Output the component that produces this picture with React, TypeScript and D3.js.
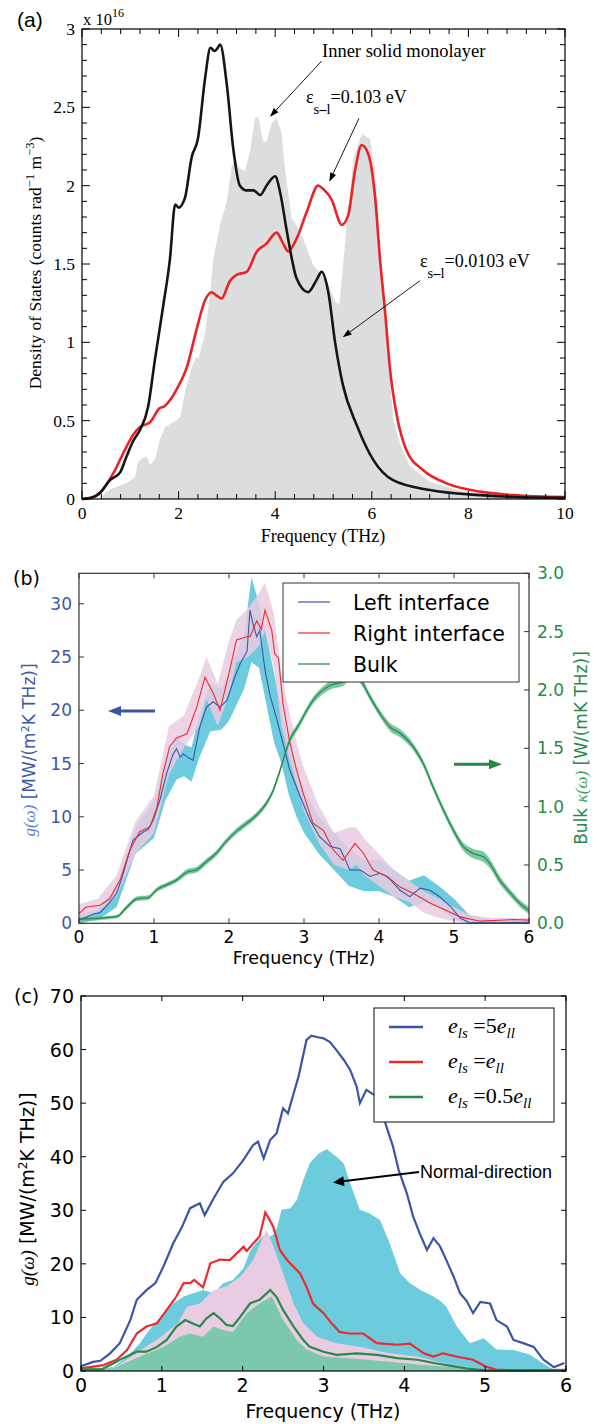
import React from 'react';
import * as d3 from 'd3';

type P2 = [number, number];
type P3 = [number, number, number];

// ---------- Panel (a): phonon density of states ----------
const dosInnerMonolayer: P2[] = [
  [0, 0], [0.37, 0], [0.45, 0.03], [0.58, 0.06], [0.92, 0.1], [1.1, 0.14], [1.16, 0.24], [1.25, 0.26],
  [1.34, 0.27], [1.41, 0.22], [1.51, 0.25], [1.61, 0.38], [1.72, 0.46], [1.89, 0.49], [2.03, 0.52],
  [2.13, 0.68], [2.27, 0.84], [2.37, 0.91], [2.41, 0.89], [2.55, 1.06], [2.65, 1.31], [2.72, 1.54],
  [2.86, 1.75], [3.0, 1.9], [3.1, 2.13], [3.2, 2.17], [3.24, 2.12], [3.37, 2.09], [3.48, 2.22],
  [3.58, 2.43], [3.65, 2.44], [3.75, 2.28], [3.82, 2.28], [3.93, 2.4], [4.03, 2.43], [4.13, 2.34],
  [4.2, 2.11], [4.34, 1.79], [4.44, 1.75], [4.58, 1.66], [4.79, 1.49], [5.07, 1.39], [5.24, 1.26],
  [5.33, 1.24], [5.48, 1.75], [5.62, 2.17], [5.79, 2.33], [5.96, 2.3], [6.07, 2.1], [6.17, 1.55],
  [6.27, 1.15], [6.38, 0.75], [6.45, 0.5], [6.6, 0.34], [6.79, 0.21], [7.2, 0.11], [7.9, 0.047],
  [8.9, 0.01], [10, 0],
];
const dosStrongCoupling: P2[] = [
  [0, 0], [0.2, 0.01], [0.35, 0.03], [0.5, 0.09], [0.65, 0.165], [0.85, 0.29], [1.06, 0.41], [1.2, 0.46],
  [1.41, 0.49], [1.61, 0.58], [1.7, 0.59], [1.82, 0.63], [1.96, 0.7], [2.17, 0.84], [2.37, 1.08],
  [2.55, 1.27], [2.68, 1.32], [2.78, 1.3], [2.89, 1.28], [3.06, 1.39], [3.2, 1.43], [3.41, 1.45],
  [3.62, 1.58], [3.82, 1.63], [4.03, 1.7], [4.15, 1.64], [4.27, 1.58], [4.44, 1.66], [4.65, 1.83],
  [4.89, 2.0], [4.99, 1.98], [5.17, 1.91], [5.38, 1.75], [5.51, 1.81], [5.65, 2.09], [5.79, 2.26],
  [5.93, 2.2], [6.07, 1.92], [6.17, 1.53], [6.27, 1.21], [6.38, 0.82], [6.52, 0.53], [6.72, 0.31],
  [7.06, 0.185], [7.55, 0.1], [8.24, 0.047], [8.93, 0.025], [10, 0.012],
];
const dosWeakCoupling: P2[] = [
  [0, 0], [0.2, 0.008], [0.37, 0.04], [0.58, 0.12], [0.79, 0.17], [0.92, 0.27], [1.06, 0.37], [1.2, 0.44],
  [1.37, 0.59], [1.51, 0.89], [1.68, 1.23], [1.82, 1.53], [1.93, 1.88], [2.0, 1.86], [2.13, 1.92],
  [2.27, 2.18], [2.4, 2.3], [2.55, 2.69], [2.66, 2.88], [2.74, 2.86], [2.79, 2.87], [2.86, 2.9],
  [3.0, 2.64], [3.13, 2.24], [3.27, 2.0], [3.41, 1.97], [3.55, 1.97], [3.69, 1.94], [3.82, 2.0],
  [4.0, 2.06], [4.1, 1.96], [4.24, 1.71], [4.34, 1.54], [4.44, 1.41], [4.68, 1.32], [4.86, 1.4],
  [4.96, 1.45], [5.1, 1.32], [5.24, 1.0], [5.4, 0.73], [5.69, 0.47], [6.03, 0.25], [6.44, 0.12],
  [7.2, 0.057], [8.24, 0.025], [9.3, 0.01], [10, 0.008],
];
const aXTicks = [0, 2, 4, 6, 8, 10];
const aYTicks = [0, 0.5, 1, 1.5, 2, 2.5, 3];
const aYTickLabels = ['0', '0.5', '1', '1.5', '2', '2.5', '3'];

// ---------- Panel (b): spectral conductance and bulk conductivity ----------
const leftInterface: P2[] = [
  [0, 0.3], [0.1, 0.6], [0.2, 0.9], [0.28, 1.0], [0.4, 1.9], [0.5, 2.8], [0.57, 4.2], [0.64, 5.9],
  [0.72, 7.8], [0.86, 8.6], [0.92, 8.8], [0.99, 9.7], [1.08, 11.6], [1.17, 14.1], [1.25, 15.8],
  [1.3, 16.4], [1.35, 15.6], [1.39, 15.9], [1.45, 15.6], [1.52, 15.3], [1.61, 18.4], [1.7, 20.3],
  [1.79, 20.8], [1.88, 20.3], [1.97, 20.9], [2.06, 22.8], [2.15, 24.4], [2.19, 24.9], [2.24, 25.5],
  [2.28, 29.4], [2.32, 28.1], [2.37, 26.9], [2.41, 27.5], [2.48, 23.8], [2.55, 21.3], [2.64, 19.1],
  [2.72, 16.9], [2.81, 14.4], [2.9, 12.8], [2.95, 11.9], [3.08, 9.7], [3.21, 8.1], [3.35, 7.2],
  [3.48, 7.0], [3.55, 6.0], [3.61, 5.0], [3.75, 5.0], [3.88, 4.4], [4.01, 4.7], [4.08, 4.5],
  [4.15, 4.1], [4.28, 3.1], [4.41, 2.5], [4.55, 3.3], [4.68, 3.1], [4.81, 2.5], [4.95, 1.6],
  [5.08, 0.5], [5.21, 0.05], [5.5, 0.05], [6, 0.1],
];
const rightInterface: P2[] = [
  [0, 0.9], [0.09, 1.5], [0.28, 1.7], [0.41, 2.3], [0.55, 4.1], [0.68, 6.9], [0.81, 8.6], [0.95, 9.1],
  [1.04, 10.9], [1.12, 14.1], [1.21, 16.6], [1.3, 17.4], [1.44, 17.8], [1.57, 20.3], [1.68, 23.1],
  [1.79, 21.6], [1.88, 20.0], [2.01, 23.8], [2.1, 26.6], [2.24, 26.9], [2.28, 26.9], [2.37, 28.4],
  [2.43, 27.6], [2.48, 29.4], [2.57, 27.5], [2.61, 25.3], [2.66, 24.9], [2.72, 20.6], [2.81, 17.0],
  [2.9, 14.4], [2.99, 12.2], [3.12, 9.4], [3.26, 8.7], [3.39, 6.9], [3.52, 5.9], [3.68, 7.5],
  [3.79, 6.6], [3.92, 5.0], [4.11, 4.4], [4.28, 3.4], [4.46, 2.8], [4.68, 1.9], [4.9, 1.2],
  [5.08, 0.6], [5.35, 0.2], [5.8, 0.35], [6, 0.3],
];
// [frequency, lower, upper]
const leftInterfaceBand: P3[] = [
  [0, 0, 0.8], [0.25, 0.3, 1.3], [0.5, 1.5, 3.5], [0.75, 6.5, 9.0], [1.0, 8.0, 11.5], [1.15, 11.5, 15.0],
  [1.3, 13.5, 17.5], [1.4, 13.8, 16.8], [1.5, 13.3, 16.5], [1.6, 15.5, 19.5], [1.75, 18.0, 22.5],
  [1.9, 18.2, 22.0], [2.0, 19.0, 23.5], [2.1, 20.5, 25.5], [2.2, 22.0, 27.0], [2.3, 24.5, 32.5],
  [2.4, 24.0, 30.0], [2.5, 20.5, 27.0], [2.6, 17.0, 23.5], [2.7, 15.0, 20.0], [2.8, 12.0, 17.0],
  [2.9, 10.0, 14.0], [3.0, 8.5, 12.5], [3.2, 6.5, 10.0], [3.4, 5.0, 8.5], [3.6, 3.5, 7.0],
  [3.8, 3.0, 6.0], [4.0, 3.0, 6.0], [4.2, 2.5, 5.0], [4.4, 1.5, 4.0], [4.6, 2.0, 4.5],
  [4.8, 1.5, 3.5], [5.0, 0.3, 2.3], [5.2, 0, 0.8], [5.5, 0, 0.3], [6.0, 0, 0.3],
];
const rightInterfaceBand: P3[] = [
  [0, 0.3, 1.8], [0.25, 1.0, 2.3], [0.5, 2.5, 4.5], [0.75, 6.5, 9.5], [1.0, 8.5, 12.0], [1.2, 14.0, 18.5],
  [1.4, 16.5, 19.5], [1.6, 18.5, 23.0], [1.7, 21.0, 25.0], [1.85, 18.5, 22.5], [2.0, 21.5, 26.5],
  [2.1, 24.5, 28.5], [2.25, 25.0, 29.5], [2.4, 26.0, 31.0], [2.48, 27.5, 32.0], [2.6, 24.0, 29.0],
  [2.7, 18.5, 23.5], [2.8, 15.5, 20.0], [2.9, 13.0, 17.0], [3.0, 10.5, 14.5], [3.2, 7.5, 11.0],
  [3.4, 5.5, 8.5], [3.6, 5.0, 9.0], [3.7, 5.5, 9.0], [3.8, 4.5, 8.0], [4.0, 3.5, 6.5], [4.2, 2.5, 5.0],
  [4.4, 2.0, 4.0], [4.6, 1.0, 3.0], [4.8, 0.5, 2.3], [5.0, 0.2, 1.5], [5.2, 0, 0.8], [5.5, 0, 0.5],
  [6.0, 0, 0.5],
];
// [frequency, kappa, half width of the uncertainty band]
const bulkKappa: P3[] = [
  [0, 0.035, 0.015], [0.5, 0.057, 0.015], [0.64, 0.14, 0.02], [0.77, 0.21, 0.02], [0.92, 0.22, 0.02],
  [1.04, 0.29, 0.02], [1.17, 0.33, 0.02], [1.3, 0.37, 0.02], [1.44, 0.44, 0.025], [1.57, 0.46, 0.025],
  [1.7, 0.53, 0.025], [1.83, 0.6, 0.025], [1.96, 0.7, 0.025], [2.1, 0.79, 0.025], [2.24, 0.86, 0.025],
  [2.37, 0.93, 0.025], [2.5, 1.03, 0.025], [2.59, 1.14, 0.025], [2.68, 1.31, 0.025], [2.81, 1.57, 0.03],
  [2.92, 1.69, 0.03], [3.12, 1.91, 0.03], [3.35, 2.04, 0.035], [3.52, 2.07, 0.035], [3.65, 2.14, 0.035],
  [3.75, 2.09, 0.035], [3.88, 1.94, 0.03], [4.01, 1.8, 0.03], [4.15, 1.68, 0.035], [4.28, 1.63, 0.035],
  [4.46, 1.51, 0.03], [4.59, 1.37, 0.03], [4.72, 1.17, 0.03], [4.86, 0.97, 0.03], [4.99, 0.8, 0.03],
  [5.12, 0.66, 0.035], [5.25, 0.6, 0.04], [5.39, 0.57, 0.045], [5.48, 0.51, 0.04], [5.61, 0.37, 0.035],
  [5.75, 0.26, 0.03], [5.88, 0.17, 0.03], [6.0, 0.11, 0.03],
];
const bXTicks = [0, 1, 2, 3, 4, 5, 6];
const bLeftTicks = [0, 5, 10, 15, 20, 25, 30];
const bRightTicks = [0, 0.5, 1, 1.5, 2, 2.5, 3];
const bLegend = ['Left interface', 'Right interface', 'Bulk'];

// ---------- Panel (c): coupling strength comparison ----------
const gStrong: P2[] = [
  [0, 0.9], [0.15, 1.7], [0.24, 1.9], [0.36, 3.3], [0.48, 5.2], [0.61, 9.5], [0.69, 13.3], [0.81, 15.1],
  [0.92, 16.4], [1.02, 19.5], [1.14, 23.8], [1.25, 26.9], [1.35, 30.4], [1.47, 31.3], [1.53, 29.1],
  [1.64, 32.2], [1.76, 35.3], [1.88, 36.9], [2.01, 39.4], [2.13, 42.2], [2.19, 42.8], [2.26, 39.7],
  [2.34, 43.1], [2.42, 44.4], [2.5, 49.0], [2.56, 48.1], [2.63, 51.8], [2.69, 54.9], [2.79, 61.8],
  [2.85, 62.6], [2.93, 62.3], [3.0, 62.1], [3.08, 61.4], [3.16, 59.9], [3.25, 58.1], [3.33, 56.2],
  [3.41, 53.1], [3.45, 50.0], [3.53, 52.5], [3.62, 51.6], [3.7, 52.0], [3.76, 46.5], [3.86, 41.9],
  [3.93, 37.5], [4.03, 33.2], [4.11, 28.8], [4.19, 25.7], [4.28, 22.6], [4.36, 24.8], [4.44, 23.3],
  [4.52, 20.7], [4.61, 17.6], [4.69, 14.5], [4.77, 13.1], [4.85, 10.8], [4.94, 12.9], [5.06, 12.6],
  [5.14, 9.5], [5.27, 8.3], [5.35, 5.8], [5.47, 5.2], [5.6, 4.5], [5.72, 2.1], [5.85, 0.7], [5.98, 1.5],
];
const gEqual: P2[] = [
  [0, 0.5], [0.28, 1.1], [0.44, 2.1], [0.57, 3.9], [0.69, 7.0], [0.81, 8.3], [0.94, 8.9], [1.06, 11.4],
  [1.18, 13.9], [1.27, 16.4], [1.35, 16.4], [1.4, 17.0], [1.51, 15.6], [1.6, 20.1], [1.72, 20.8],
  [1.84, 20.7], [1.93, 22.0], [2.01, 23.2], [2.05, 22.4], [2.13, 23.8], [2.21, 25.1], [2.28, 29.6],
  [2.33, 28.3], [2.38, 26.9], [2.46, 22.6], [2.55, 20.7], [2.71, 18.2], [2.79, 15.7], [2.87, 12.6],
  [3.0, 10.8], [3.1, 8.9], [3.2, 7.3], [3.32, 7.0], [3.49, 7.0], [3.66, 5.2], [3.91, 4.9], [4.07, 5.1],
  [4.24, 3.3], [4.36, 2.7], [4.48, 3.3], [4.64, 2.7], [4.85, 2.1], [5.0, 0.9], [5.15, 0.2], [5.5, 0.1],
  [6, 0.2],
];
const gWeak: P2[] = [
  [0, 0.3], [0.25, 0.3], [0.4, 1.4], [0.52, 2.4], [0.69, 3.6], [0.81, 3.6], [0.94, 4.5], [1.06, 5.8],
  [1.18, 8.3], [1.29, 9.5], [1.39, 8.8], [1.47, 8.3], [1.55, 9.8], [1.64, 10.8], [1.72, 9.8], [1.8, 8.6],
  [1.88, 8.4], [1.97, 10.1], [2.09, 12.6], [2.21, 13.3], [2.34, 15.1], [2.42, 13.8], [2.5, 11.4],
  [2.63, 8.3], [2.75, 5.8], [2.83, 4.5], [3.0, 3.6], [3.16, 3.0], [3.41, 3.3], [3.66, 3.0], [3.91, 2.4],
  [4.16, 2.1], [4.4, 1.4], [4.52, 1.1], [4.77, 0.5], [5.0, 0.1], [6, 0.1],
];
const gNormalStrong: P2[] = [
  [0, 0.4], [0.4, 0.7], [0.57, 2.7], [0.73, 5.2], [0.81, 7.0], [1.02, 10.8], [1.14, 12.6], [1.27, 13.9],
  [1.39, 14.5], [1.51, 15.1], [1.64, 14.5], [1.76, 16.4], [1.88, 17.0], [2.01, 19.2], [2.09, 22.3],
  [2.17, 24.0], [2.26, 25.3], [2.34, 25.1], [2.4, 25.7], [2.44, 27.6], [2.48, 30.1], [2.59, 30.4],
  [2.67, 31.9], [2.75, 35.7], [2.83, 38.8], [2.94, 40.6], [3.04, 41.4], [3.16, 40.0], [3.25, 38.8],
  [3.33, 35.0], [3.45, 30.1], [3.57, 29.4], [3.7, 28.2], [3.82, 23.8], [3.95, 18.2], [4.07, 16.4],
  [4.2, 15.1], [4.36, 13.9], [4.45, 13.0], [4.52, 12.0], [4.65, 8.3], [4.81, 5.2], [4.98, 6.1],
  [5.14, 4.0], [5.35, 3.9], [5.55, 3.1], [5.72, 1.4], [5.85, 0.2], [6, 0],
];
const gNormalEqual: P2[] = [
  [0, 0.3], [0.4, 0.5], [0.5, 1.5], [0.75, 4.0], [1.0, 6.5], [1.2, 9.0], [1.31, 12.0], [1.47, 12.6],
  [1.64, 15.1], [1.8, 15.8], [1.97, 17.6], [2.13, 20.7], [2.28, 26.0], [2.3, 26.3], [2.38, 23.3],
  [2.5, 18.2], [2.63, 12.6], [2.75, 8.9], [2.92, 6.4], [3.16, 5.2], [3.49, 4.4], [3.82, 3.3],
  [4.16, 2.7], [4.5, 1.4], [5.0, 0.3], [5.2, 0], [6, 0],
];
const gNormalWeak: P2[] = [
  [0, 0.2], [0.4, 0.5], [0.73, 2.7], [1.02, 4.5], [1.22, 6.4], [1.35, 7.0], [1.51, 6.4], [1.64, 8.3],
  [1.76, 7.6], [1.88, 7.3], [2.05, 10.8], [2.21, 12.6], [2.36, 13.9], [2.5, 9.5], [2.67, 5.8],
  [2.79, 4.0], [3.0, 2.7], [3.33, 2.4], [3.74, 1.8], [4.16, 1.2], [5.0, 0.2], [6, 0],
];
const cXTicks = [0, 1, 2, 3, 4, 5, 6];
const cYTicks = [0, 10, 20, 30, 40, 50, 60, 70];
const cLegendFactors = ['5', '', '0.5'];

const SERIF = '"Liberation Serif", "Times New Roman", serif';
const MPL = '"DejaVu Sans", sans-serif';
const HELV = '"Liberation Sans", Arial, sans-serif';

const BLUE = '#3a55a6';
const RED = '#ee2a2c';
const GREEN = '#258c47';
const CYAN = '#6ccbdc';
const PINK = '#e9cbe2';
const MINT = '#7cc8ad';

function Arrow({ x1, y1, x2, y2, color = '#000', w = 1, head = 9, half = 3.2 }: any) {
  const a = Math.atan2(y2 - y1, x2 - x1);
  const bx = x2 - head * Math.cos(a);
  const by = y2 - head * Math.sin(a);
  const px = -Math.sin(a) * half;
  const py = Math.cos(a) * half;
  return (
    <g>
      <line x1={x1} y1={y1} x2={bx + 0.3 * (x2 - bx)} y2={by + 0.3 * (y2 - by)} stroke={color} strokeWidth={w} />
      <path d={`M${x2},${y2}L${bx + px},${by + py}L${bx - px},${by - py}Z`} fill={color} />
    </g>
  );
}

function PanelA() {
  const x = d3.scaleLinear().domain([0, 10]).range([82, 565]);
  const y = d3.scaleLinear().domain([0, 3]).range([499, 29]);
  const area = d3.area<P2>().x(d => x(d[0])).y0(y(0)).y1(d => y(d[1]));
  const line = d3.line<P2>().x(d => x(d[0])).y(d => y(d[1])).curve(d3.curveMonotoneX);
  const minorX = d3.range(0, 10.001, 0.4);
  const minorY = d3.range(0, 3.001, 0.1);
  const [x0, x1] = x.range();
  const [y0, y1] = y.range();
  return (
    <g>
      <path d={area(dosInnerMonolayer) || ''} fill="#dcdedd" />
      <path d={line(dosStrongCoupling) || ''} fill="none" stroke="#ec2227" strokeWidth={2.6} />
      <path d={line(dosWeakCoupling) || ''} fill="none" stroke="#151515" strokeWidth={2.6} />
      {minorX.map((v, i) => {
        const major = i % 5 === 0;
        const L = major ? 8 : 5;
        return (
          <g key={'ax' + i} stroke="#000" strokeWidth={1}>
            <line x1={x(v)} x2={x(v)} y1={y0} y2={y0 - L} />
            <line x1={x(v)} x2={x(v)} y1={y1} y2={y1 + L} />
          </g>
        );
      })}
      {minorY.map((v, i) => {
        const major = i % 5 === 0;
        const L = major ? 8 : 5;
        return (
          <g key={'ay' + i} stroke="#000" strokeWidth={1}>
            <line x1={x0} x2={x0 + L} y1={y(v)} y2={y(v)} />
            <line x1={x1} x2={x1 - L} y1={y(v)} y2={y(v)} />
          </g>
        );
      })}
      <rect x={x0} y={y1} width={x1 - x0} height={y0 - y1} fill="none" stroke="#000" strokeWidth={1.2} />
      {aXTicks.map(v => (
        <text key={'axl' + v} x={x(v)} y={519} textAnchor="middle" fontFamily={SERIF} fontSize={17.5}>{v}</text>
      ))}
      {aYTicks.map((v, i) => (
        <text key={'ayl' + v} x={75} y={y(v) + 6} textAnchor="end" fontFamily={SERIF} fontSize={17.5}>{aYTickLabels[i]}</text>
      ))}
      <text x={83} y={25} fontFamily={SERIF} fontSize={16.5}>x 10<tspan dy={-8} fontSize={12}>16</tspan></text>
      <text x={17} y={27} fontFamily={HELV} fontSize={21}>(a)</text>
      <text x={323} y={542} textAnchor="middle" fontFamily={SERIF} fontSize={18}>Frequency (THz)</text>
      <text transform="translate(41,263) rotate(-90)" textAnchor="middle" fontFamily={SERIF} fontSize={17.5}>
        Density of States (counts rad<tspan dy={-7} fontSize={12.5}>{'\u22121'}</tspan>
        <tspan dy={7}> m</tspan><tspan dy={-7} fontSize={12.5}>{'\u22123'}</tspan><tspan dy={7}>)</tspan>
      </text>
      <text x={322} y={57} fontFamily={SERIF} fontSize={18.5}>Inner solid monolayer</text>
      <Arrow x1={321.7} y1={61} x2={270} y2={116.7} w={0.9} />
      <text x={306} y={103} fontFamily={SERIF} fontSize={18}>
        {'\u03b5'}<tspan dy={11} fontSize={14.5}>s</tspan><tspan fontSize={14.5} fontWeight="bold">{'\u2013'}</tspan><tspan fontSize={14.5}>l</tspan><tspan dy={-11}>=0.103 eV</tspan>
      </text>
      <Arrow x1={359} y1={118.3} x2={329.3} y2={181.7} w={0.9} />
      <text x={420} y={267} fontFamily={SERIF} fontSize={18}>
        {'\u03b5'}<tspan dy={11} fontSize={14.5}>s</tspan><tspan fontSize={14.5} fontWeight="bold">{'\u2013'}</tspan><tspan fontSize={14.5}>l</tspan><tspan dy={-11}>=0.0103 eV</tspan>
      </text>
      <Arrow x1={420} y1={280.7} x2={342.7} y2={337.3} w={0.9} />
    </g>
  );
}

function PanelB() {
  const x = d3.scaleLinear().domain([0, 6]).range([79, 529]);
  const y = d3.scaleLinear().domain([0, 32.86]).range([923.3, 573.3]);
  const yr = d3.scaleLinear().domain([0, 3]).range([923.3, 573.3]);
  const band = d3.area<P3>().x(d => x(d[0])).y0(d => y(d[1])).y1(d => y(d[2]));
  const kBand = d3.area<P3>().x(d => x(d[0])).y0(d => yr(d[1] - d[2])).y1(d => yr(d[1] + d[2])).curve(d3.curveMonotoneX);
  const line = d3.line<P2>().x(d => x(d[0])).y(d => y(d[1]));
  const kLine = d3.line<P3>().x(d => x(d[0])).y(d => yr(d[1])).curve(d3.curveMonotoneX);
  const [x0, x1] = x.range();
  const [y0, y1] = y.range();
  const legendColors = [BLUE, RED, GREEN];
  const legendRows = [602, 633, 664];
  return (
    <g>
      <path d={band(leftInterfaceBand) || ''} fill={CYAN} />
      <path d={band(rightInterfaceBand) || ''} fill={PINK} fillOpacity={0.85} />
      <path d={kBand(bulkKappa) || ''} fill="#5fb98b" fillOpacity={0.8} />
      <path d={line(leftInterface) || ''} fill="none" stroke={BLUE} strokeWidth={1.1} />
      <path d={line(rightInterface) || ''} fill="none" stroke={RED} strokeWidth={1.1} />
      <path d={kLine(bulkKappa) || ''} fill="none" stroke={GREEN} strokeWidth={1.3} />
      <g stroke="#333" strokeWidth={1}>
        {bXTicks.map(v => (
          <g key={'bt' + v}>
            <line x1={x(v)} x2={x(v)} y1={y0} y2={y0 - 5} />
            <line x1={x(v)} x2={x(v)} y1={y1} y2={y1 + 5} />
          </g>
        ))}
        {bLeftTicks.map(v => <line key={'bl' + v} x1={x0} x2={x0 + 5} y1={y(v)} y2={y(v)} />)}
        {bRightTicks.map(v => <line key={'br' + v} x1={x1} x2={x1 - 5} y1={yr(v)} y2={yr(v)} />)}
      </g>
      <rect x={x0} y={y1} width={x1 - x0} height={y0 - y1} fill="none" stroke="#333" strokeWidth={1.2} />
      {bXTicks.map(v => (
        <text key={'btl' + v} x={x(v)} y={943} textAnchor="middle" fontFamily={MPL} fontSize={17}>{v}</text>
      ))}
      {bLeftTicks.map(v => (
        <text key={'bll' + v} x={72} y={y(v) + 6} textAnchor="end" fontFamily={MPL} fontSize={17} fill="#3b5aa9">{v}</text>
      ))}
      {bRightTicks.map(v => (
        <text key={'brl' + v} x={537} y={yr(v) + 6} fontFamily={MPL} fontSize={17} fill={GREEN}>{v.toFixed(1)}</text>
      ))}
      <text x={304} y={964} textAnchor="middle" fontFamily={MPL} fontSize={17.5}>Frequency (THz)</text>
      <text transform="translate(35,750) rotate(-90)" textAnchor="middle" fontFamily={MPL} fontSize={17} fill="#3b5aa9">
        <tspan fontFamily={SERIF} fontStyle="italic" fill="#5b7fd0">g(ω)</tspan> [MW/(m<tspan dy={-6} fontSize={11}>2</tspan><tspan dy={6}>K THz)]</tspan>
      </text>
      <text transform="translate(587,748) rotate(-90)" textAnchor="middle" fontFamily={MPL} fontSize={17} fill={GREEN}>
        Bulk <tspan fontFamily={SERIF} fontStyle="italic" fill="#3fa060">κ(ω)</tspan> [W/(mK THz)]
      </text>
      <text x={13} y={585} fontFamily={MPL} fontSize={19}>(b)</text>
      <Arrow x1={155} y1={711} x2={108} y2={711} color={BLUE} w={3} head={13} half={5} />
      <Arrow x1={454} y1={764.3} x2={502} y2={764.3} color="#228b45" w={3} head={13} half={5} />
      <rect x={283} y={583} width={236} height={99} fill="#fff" stroke="#333" strokeWidth={1} />
      {bLegend.map((t, i) => (
        <g key={'lg' + i}>
          <line x1={298} x2={330} y1={legendRows[i]} y2={legendRows[i]} stroke={legendColors[i]} strokeWidth={1.2} />
          <text x={353} y={legendRows[i] + 7.5} fontFamily={MPL} fontSize={20.5}>{t}</text>
        </g>
      ))}
    </g>
  );
}

function PanelC() {
  const x = d3.scaleLinear().domain([0, 6]).range([81, 566]);
  const y = d3.scaleLinear().domain([0, 70]).range([1371, 996]);
  const area = d3.area<P2>().x(d => x(d[0])).y0(y(0)).y1(d => y(d[1]));
  const line = d3.line<P2>().x(d => x(d[0])).y(d => y(d[1]));
  const [x0, x1] = x.range();
  const [y0, y1] = y.range();
  const legendColors = [BLUE, RED, GREEN];
  const legendRows = [1027, 1062, 1097];
  return (
    <g>
      <path d={area(gNormalStrong) || ''} fill={CYAN} />
      <path d={area(gNormalEqual) || ''} fill={PINK} />
      <path d={area(gNormalWeak) || ''} fill={MINT} />
      <path d={line(gStrong) || ''} fill="none" stroke={BLUE} strokeWidth={2.2} />
      <path d={line(gEqual) || ''} fill="none" stroke={RED} strokeWidth={2.2} />
      <path d={line(gWeak) || ''} fill="none" stroke={GREEN} strokeWidth={2.2} />
      <g stroke="#000" strokeWidth={1}>
        {cXTicks.map(v => (
          <g key={'ct' + v}>
            <line x1={x(v)} x2={x(v)} y1={y0} y2={y0 - 5} />
            <line x1={x(v)} x2={x(v)} y1={y1} y2={y1 + 5} />
          </g>
        ))}
        {cYTicks.map(v => (
          <g key={'cy' + v}>
            <line x1={x0} x2={x0 + 5} y1={y(v)} y2={y(v)} />
            <line x1={x1} x2={x1 - 5} y1={y(v)} y2={y(v)} />
          </g>
        ))}
      </g>
      <rect x={x0} y={y1} width={x1 - x0} height={y0 - y1} fill="none" stroke="#000" strokeWidth={1.2} />
      {cXTicks.map(v => (
        <text key={'cxl' + v} x={x(v)} y={1392} textAnchor="middle" fontFamily={MPL} fontSize={19}>{v}</text>
      ))}
      {cYTicks.map(v => (
        <text key={'cyl' + v} x={74} y={y(v) + 7} textAnchor="end" fontFamily={MPL} fontSize={19}>{v}</text>
      ))}
      <text x={323} y={1418} textAnchor="middle" fontFamily={MPL} fontSize={19}>Frequency (THz)</text>
      <text transform="translate(34,1189) rotate(-90)" textAnchor="middle" fontFamily={MPL} fontSize={19}>
        <tspan fontFamily={SERIF} fontStyle="italic">g(ω)</tspan> [MW/(m<tspan dy={-7} fontSize={12}>2</tspan><tspan dy={7}>K THz)]</tspan>
      </text>
      <text x={14} y={1003} fontFamily={MPL} fontSize={19}>(c)</text>
      <rect x={374} y={1008} width={180} height={114} fill="#fff" stroke="#333" strokeWidth={1.2} />
      {cLegendFactors.map((f, i) => (
        <g key={'cl' + i}>
          <line x1={389} x2={423} y1={legendRows[i]} y2={legendRows[i]} stroke={legendColors[i]} strokeWidth={2.5} />
          <text x={448} y={legendRows[i] + 6} fontFamily={SERIF} fontSize={22}>
            <tspan fontStyle="italic">e</tspan><tspan dy={5} fontSize={15} fontStyle="italic">ls</tspan>
            <tspan dy={-5}>{' =' + f}</tspan><tspan fontStyle="italic">e</tspan>
            <tspan dy={5} fontSize={15} fontStyle="italic">ll</tspan>
          </text>
        </g>
      ))}
      <text x={420} y={1178} fontFamily={HELV} fontSize={18}>Normal-direction</text>
      <Arrow x1={419} y1={1172} x2={333} y2={1182.5} w={2} head={11} half={5} />
    </g>
  );
}

export default function App() {
  return (
    <svg width={599} height={1424} viewBox="0 0 599 1424" style={{ position: 'absolute', left: 0, top: 0, background: '#fff' }}>
      <rect width={599} height={1424} fill="#fff" />
      <PanelA />
      <PanelB />
      <PanelC />
    </svg>
  );
}
